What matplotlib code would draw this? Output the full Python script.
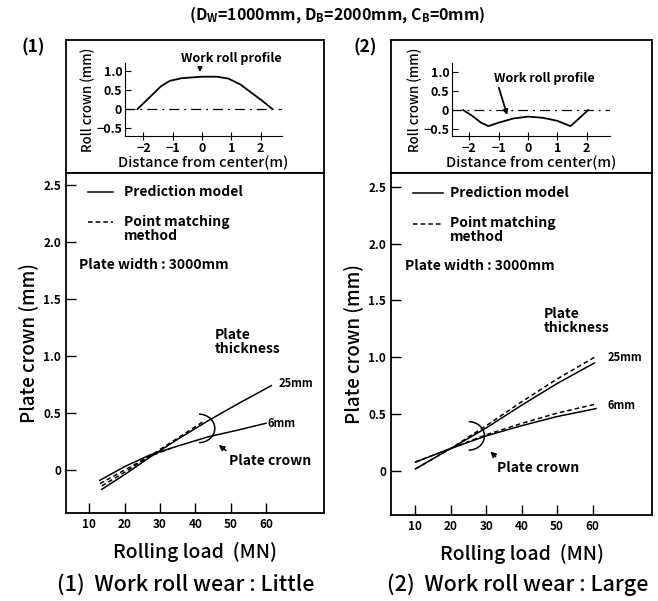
import matplotlib
matplotlib.use("Agg")
import matplotlib.pyplot as plt
from matplotlib.patches import Arc

plt.rcParams['font.family'] = ['Noto Sans CJK JP', 'DejaVu Sans']
plt.rcParams['axes.unicode_minus'] = True

W, H = 658, 601

# work roll profiles (inset charts)
roll_x_little = [-2.2, -1.8, -1.4, -1.1, -0.7, 0.0, 0.5, 0.9, 1.3, 1.7, 2.0, 2.4]
roll_y_little = [0.0, 0.3, 0.6, 0.74, 0.81, 0.85, 0.85, 0.8, 0.65, 0.42, 0.25, 0.0]
roll_x_large = [-2.2, -1.9, -1.6, -1.35, -1.0, -0.5, 0.0, 0.5, 1.0, 1.45, 1.7, 2.05]
roll_y_large = [0.0, -0.15, -0.33, -0.42, -0.33, -0.22, -0.17, -0.2, -0.28, -0.42, -0.25, 0.0]

# (1) work roll wear little
load_l_6 = [13, 20, 27, 35, 43.5, 52, 60]
pred_l_6 = [-0.09, 0.03, 0.13, 0.21, 0.29, 0.35, 0.41]
load_l_25 = [13.5, 20, 27, 35, 43.5, 52, 61.5]
pred_l_25 = [-0.17, -0.04, 0.11, 0.27, 0.43, 0.58, 0.74]
load_l_6_pm = [13, 20, 27, 33]
pm_l_6 = [-0.12, 0.0, 0.12, 0.19]
load_l_25_pm = [13.5, 20, 27, 35, 42]
pm_l_25 = [-0.14, -0.02, 0.12, 0.28, 0.42]

# (2) work roll wear large
load_r = [10, 20, 30, 40, 50, 60.5]
pred_r_25 = [0.02, 0.2, 0.38, 0.58, 0.77, 0.95]
pm_r_25 = [0.02, 0.2, 0.4, 0.61, 0.81, 1.0]
load_r_6 = [10, 20, 30, 40, 50, 61]
pred_r_6 = [0.08, 0.2, 0.31, 0.4, 0.48, 0.55]
pm_r_6 = [0.08, 0.2, 0.32, 0.42, 0.51, 0.59]

main_yticks = [0, 0.5, 1.0, 1.5, 2.0, 2.5]
main_yticklabels = ['0', '0.5', '1.0', '1.5', '2.0', '2.5']
main_xticks = [10, 20, 30, 40, 50, 60]
inset_xticks = [-2, -1, 0, 1, 2]
inset_yticks = [-0.5, 0, 0.5, 1.0]
inset_yticklabels = ['\u22120.5', '0', '0.5', '1.0']


def box(l, t, r, b):
    return [l / W, 1 - b / H, (r - l) / W, (b - t) / H]


fig = plt.figure(figsize=(W / 100, H / 100), dpi=100)

fig.text(337 / W, 1 - 15 / H,
         r'(D$_\mathregular{W}$=1000mm, D$_\mathregular{B}$=2000mm, C$_\mathregular{B}$=0mm)',
         ha='center', va='center', fontsize=11.5, weight='bold')


def make_panel(tag, tagx, frame, main, inset, rx, ry, xlim_main, ylim_main,
               xlim_in, ylim_in, caption, capx):
    fr = fig.add_axes(box(*frame))
    fr.set_xticks([])
    fr.set_yticks([])
    for s in fr.spines.values():
        s.set_linewidth(1.3)
    fig.text(tagx / W, 1 - 47 / H, tag, ha='center', va='center', fontsize=12.5, weight='bold')

    ai = fig.add_axes(box(*inset))
    ai.plot(rx, ry, color='k', lw=1.3)
    ai.axhline(0, color='k', lw=0.9, ls=(0, (8, 4, 1.5, 4)))
    ai.set_xlim(*xlim_in)
    ai.set_ylim(*ylim_in)
    ai.spines['top'].set_visible(False)
    ai.spines['right'].set_visible(False)
    ai.set_xticks(inset_xticks)
    ai.set_xticklabels(['\u22122', '\u22121', '0', '1', '2'])
    ai.set_yticks(inset_yticks)
    ai.set_yticklabels(inset_yticklabels)
    ai.tick_params(axis='x', direction='inout', length=6, labelsize=9, pad=1)
    ai.tick_params(axis='y', direction='in', length=4, labelsize=9, pad=2)
    for lab in ai.get_xticklabels() + ai.get_yticklabels():
        lab.set_fontweight('bold')
    ai.set_xlabel('Distance from center(m)', fontsize=10.5, labelpad=1, weight='medium')
    ai.set_ylabel('Roll crown (mm)', fontsize=9.5, labelpad=1, weight='medium')
    ai.patch.set_alpha(0)

    am = fig.add_axes(box(*main))
    am.set_xlim(*xlim_main)
    am.set_ylim(*ylim_main)
    am.set_xticks(main_xticks)
    am.set_yticks(main_yticks)
    am.set_yticklabels(main_yticklabels)
    am.tick_params(direction='in', length=7, width=1, labelsize=8.5)
    for lab in am.get_xticklabels() + am.get_yticklabels():
        lab.set_fontweight('bold')
    for s in am.spines.values():
        s.set_linewidth(1.3)
    am.set_xlabel('Rolling load  (MN)', fontsize=14, labelpad=8, weight='medium')
    am.set_ylabel('Plate crown (mm)', fontsize=13.5, labelpad=4, weight='medium')
    fig.text(capx / W, 1 - 585 / H, caption, ha='center', va='center', fontsize=15.5,
             weight='medium')
    return ai, am


ai1, am1 = make_panel('(1)', 33, (66, 40, 324, 173), (66, 173, 324, 513),
                      (125, 63, 282, 136), roll_x_little, roll_y_little,
                      (3.4, 76.4), (-0.377, 2.605), (-2.63, 2.73), (-0.71, 1.21),
                      '(1)  Work roll wear : Little', 186)
ai2, am2 = make_panel('(2)', 365, (391, 40, 652, 173), (391, 173, 652, 515),
                      (452, 63, 610, 136), roll_x_large, roll_y_large,
                      (3.1, 76.8), (-0.385, 2.62), (-2.59, 2.8), (-0.68, 1.24),
                      '(2)  Work roll wear : Large', 518)

# inset annotations
ai1.text(1.0, 1.34, 'Work roll profile', ha='center', va='center', fontsize=9,
         weight='bold', clip_on=False)
ai1.annotate('', xy=(-0.07, 0.9), xytext=(-0.07, 1.18),
             arrowprops=dict(arrowstyle='-|>', color='k', lw=1, mutation_scale=7))
ai2.text(0.55, 0.84, 'Work roll profile', ha='center', va='center', fontsize=9,
         weight='bold')
ai2.annotate('', xy=(-0.68, -0.2), xytext=(-1.02, 0.66),
             arrowprops=dict(arrowstyle='-|>', color='k', lw=1.3, mutation_scale=7))

# legends and notes
for am, x0, x1, xt in ((am1, 9.7, 16.8, 19.9), (am2, 9.3, 17.8, 19.8)):
    am.plot([x0, x1], [2.44, 2.44], color='k', lw=1.1)
    am.plot([x0, x1], [2.175, 2.175], color='k', lw=1.1, ls=(0, (3, 2)))
    am.text(xt, 2.44, 'Prediction model', va='center', fontsize=10, weight='bold')
    am.text(xt, 2.24, 'Point matching\nmethod', va='top', fontsize=10, weight='bold',
            linespacing=1.0)
    am.text(7, 1.8, 'Plate width : 3000mm', va='center', fontsize=10, weight='bold')

am1.plot(load_l_25, pred_l_25, color='k', lw=1.1)
am1.plot(load_l_6, pred_l_6, color='k', lw=1.1)
am1.plot(load_l_25_pm, pm_l_25, color='k', lw=1.1, ls=(0, (3, 2)))
am1.plot(load_l_6_pm, pm_l_6, color='k', lw=1.1, ls=(0, (3, 2)))
am1.text(63.5, 0.76, '25mm', va='center', fontsize=8, weight='bold')
am1.text(60.5, 0.41, '6mm', va='center', fontsize=8, weight='bold')
am1.text(45.5, 1.12, 'Plate\nthickness', va='center', fontsize=10, weight='bold',
         linespacing=1.0)
am1.add_patch(Arc((41.0, 0.365), 9, 0.25, theta1=-72, theta2=72, color='k', lw=1.1))
am1.annotate('', xy=(46.0, 0.235), xytext=(49.3, 0.155),
             arrowprops=dict(arrowstyle='-|>', color='k', lw=1.1, mutation_scale=8))
am1.text(49.4, 0.08, 'Plate crown', va='center', fontsize=10, weight='bold')

am2.plot(load_r, pred_r_25, color='k', lw=1.1)
am2.plot(load_r, pm_r_25, color='k', lw=1.1, ls=(0, (3, 2)))
am2.plot(load_r_6, pred_r_6, color='k', lw=1.1)
am2.plot(load_r_6, pm_r_6, color='k', lw=1.1, ls=(0, (3, 2)))
am2.text(64.2, 1.0, '25mm', va='center', fontsize=8, weight='bold')
am2.text(64.2, 0.58, '6mm', va='center', fontsize=8, weight='bold')
am2.text(46.3, 1.32, 'Plate\nthickness', va='center', fontsize=10, weight='bold',
         linespacing=1.0)
am2.add_patch(Arc((25.0, 0.31), 9, 0.25, theta1=-72, theta2=72, color='k', lw=1.1))
am2.annotate('', xy=(30.6, 0.19), xytext=(33.2, 0.11),
             arrowprops=dict(arrowstyle='-|>', color='k', lw=1.1, mutation_scale=8))
am2.text(33, 0.03, 'Plate crown', va='center', fontsize=10, weight='bold')

fig.savefig('out.png', dpi=100)
